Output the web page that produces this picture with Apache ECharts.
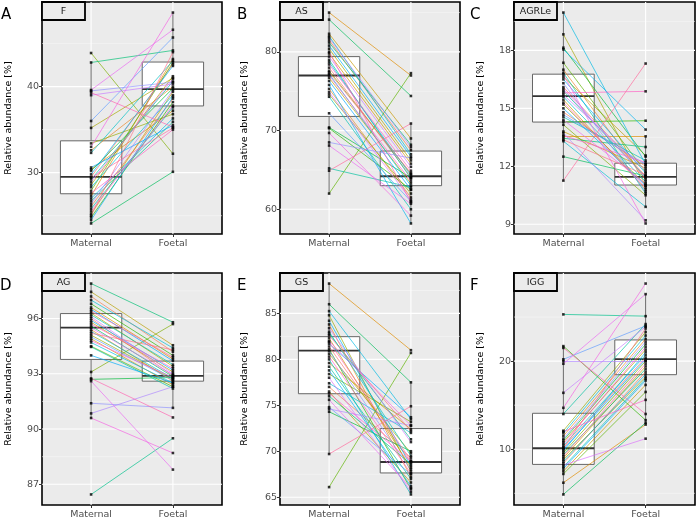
<!DOCTYPE html>
<html><head><meta charset="utf-8">
<script src="https://cdn.jsdelivr.net/npm/echarts@6/dist/echarts.min.js"></script>
<style>html,body{margin:0;padding:0;background:#fff}#c{width:697px;height:520px}</style>
</head><body><div id="c"></div>
<script>
// ---------- data ----------
const categories = ['Maternal', 'Foetal'];
const panelLetters = ['A', 'B', 'C', 'D', 'E', 'F'];
const panelNames = ['F', 'AS', 'AGRLe', 'AG', 'GS', 'IGG'];

const F_maternal = [29.5,26.1,32.6,27.3,30.4,25.2,28.6,35.2,33.4,43.9,27.9,24.8,30.2,24.1,42.8,26.7,29.2,25.8,32.3,28.3,27.0,29.8,24.5,30.6,36.0,39.5,26.4,39.0,28.9,39.6,33.0,25.5,27.6,39.3,29.4,25.0];
const F_foetal   = [42.6,38.6,40.0,43.2,37.2,39.4,41.2,41.0,36.8,32.2,42.8,38.2,39.8,30.1,44.2,35.9,40.6,37.6,43.0,39.0,36.3,42.4,38.8,35.5,45.7,40.5,39.6,40.3,40.9,46.6,48.6,37.8,35.0,35.3,35.2,44.0];

const AS_maternal = [78.0,81.5,75.3,85.0,79.8,82.3,76.7,80.4,74.6,77.6,62.0,70.3,70.4,84.1,81.2,79.0,65.2,74.3,82.0,77.2,78.7,75.8,80.8,76.3,72.2,68.5,81.8,79.4,74.9,68.1,69.7,77.0,78.4,80.0,64.9,77.4];
const AS_foetal   = [64.1,67.5,61.5,77.0,65.8,69.0,63.3,66.2,62.0,64.5,77.3,62.5,64.0,74.4,68.2,63.9,62.8,60.0,67.0,63.0,64.3,58.2,66.7,62.5,61.0,66.5,67.9,65.4,61.2,60.7,59.2,63.6,64.9,60.9,70.9,64.6];

const AGRLe_maternal = [16.1,14.8,17.0,13.55,15.45,13.8,16.63,18.83,15.2,14.15,17.36,14.3,18.14,12.5,13.45,15.9,16.84,14.55,15.6,13.3,19.96,18.05,16.5,15.0,14.67,16.3,13.72,15.7,16.0,14.4,16.75,13.6,15.8,15.3,11.26,13.37];
const AGRLe_foetal   = [11.5,12.0,11.3,13.55,10.8,11.9,12.56,11.0,11.05,10.5,11.7,14.36,12.5,11.5,13.0,11.45,10.6,12.3,11.2,9.9,12.1,13.9,11.64,11.0,12.1,10.7,9.2,11.8,11.4,11.1,9.04,12.2,15.88,10.9,17.32,11.55];

const AG_maternal = [96.0,97.2,95.4,96.6,94.9,95.8,97.45,96.3,95.1,93.1,94.5,96.8,92.7,95.6,97.9,86.45,94.46,96.2,95.3,97.0,94.7,95.9,94.0,96.5,95.0,91.4,90.85,96.1,95.5,92.6,90.6,94.8,95.7,92.75,96.4,95.2];
const AG_foetal   = [92.9,94.2,92.6,93.8,92.4,93.1,94.55,93.4,92.7,95.7,92.3,94.0,92.8,92.85,95.8,89.5,92.2,93.5,92.75,94.4,92.5,93.2,92.5,93.7,92.65,91.15,92.3,93.0,92.95,87.8,88.7,92.8,93.3,90.63,93.9,94.3];

const GS_maternal = [81.4,77.0,83.8,88.25,79.6,82.3,76.5,80.6,84.8,78.4,66.1,81.1,74.3,86.0,76.0,82.8,79.2,83.0,80.0,77.4,85.25,84.2,78.8,81.7,74.8,80.9,74.6,83.4,78.0,75.6,82.0,76.3,80.3,81.9,69.7,82.6];
const GS_foetal   = [68.8,69.3,67.2,81.0,72.4,68.2,66.6,69.8,67.8,73.2,80.7,65.9,70.0,77.5,68.6,71.3,67.0,69.5,65.3,72.0,73.5,68.4,66.2,73.7,67.5,68.0,72.8,71.0,65.6,66.0,72.8,68.9,67.6,69.0,74.9,72.2];

const IGG_maternal = [10.2,8.4,11.5,6.2,9.0,7.5,10.8,8.8,12.1,9.6,7.2,21.7,11.0,4.87,9.4,25.3,14.0,8.0,10.4,11.8,8.6,9.8,7.8,10.0,20.2,11.2,20.0,16.4,8.2,19.7,14.7,10.6,12.0,21.5,9.2,10.1];
const IGG_foetal   = [20.4,18.8,22.5,12.8,19.4,17.3,21.3,18.2,23.3,20.0,16.5,13.3,21.9,13.0,19.1,25.1,24.2,18.0,20.7,22.9,18.5,21.0,17.8,20.2,24.0,22.2,20.0,23.9,11.2,27.6,28.8,21.6,15.6,14.0,19.7,23.7];

// box quartiles: [q1, median, q3]
const F_boxM = [27.55, 29.5, 33.7],   F_boxF = [37.75, 39.7, 42.85];
const AS_boxM = [71.8, 77.0, 79.4],   AS_boxF = [63.0, 64.2, 67.4];
const AGRLe_boxM = [14.29, 15.63, 16.77], AGRLe_boxF = [11.03, 11.45, 12.16];
const AG_boxM = [93.78, 95.51, 96.27], AG_boxF = [92.6, 92.89, 93.69];
const GS_boxM = [76.26, 80.96, 82.47], GS_boxF = [67.64, 68.83, 72.47];
const IGG_boxM = [8.28, 10.11, 14.08], IGG_boxF = [18.46, 20.22, 22.4];

// tick labels
const F_ticks = [30, 40];
const AS_ticks = [60, 70, 80];
const AGRLe_ticks = [9, 12, 15, 18];
const AG_ticks = [87, 90, 93, 96];
const GS_ticks = [65, 70, 75, 80, 85];
const IGG_ticks = [10, 20];

const panels = [
  {m: F_maternal, f: F_foetal, bm: F_boxM, bf: F_boxF, ticks: F_ticks},
  {m: AS_maternal, f: AS_foetal, bm: AS_boxM, bf: AS_boxF, ticks: AS_ticks},
  {m: AGRLe_maternal, f: AGRLe_foetal, bm: AGRLe_boxM, bf: AGRLe_boxF, ticks: AGRLe_ticks},
  {m: AG_maternal, f: AG_foetal, bm: AG_boxM, bf: AG_boxF, ticks: AG_ticks},
  {m: GS_maternal, f: GS_foetal, bm: GS_boxM, bf: GS_boxF, ticks: GS_ticks},
  {m: IGG_maternal, f: IGG_foetal, bm: IGG_boxM, bf: IGG_boxF, ticks: IGG_ticks}
];

// ---------- styling / layout ----------
const layout = [
  {left: 42, top: 2, width: 180, height: 232, gap: 28, lx: 1},
  {left: 280, top: 2, width: 180, height: 232, gap: 30, lx: 237},
  {left: 514, top: 2, width: 181, height: 232, gap: 28, lx: 470},
  {left: 42, top: 273, width: 180, height: 232, gap: 28, lx: 0},
  {left: 280, top: 273, width: 180, height: 232, gap: 30, lx: 237},
  {left: 514, top: 273, width: 181, height: 232, gap: 28, lx: 470}
];
const FONT = 'DejaVu Sans';

function hcl(h, c, l) {
  const Xn = 95.047, Yn = 100, Zn = 108.883;
  const hr = h * Math.PI / 180;
  const u = c * Math.cos(hr), v = c * Math.sin(hr);
  const Y = l > 8 ? Yn * Math.pow((l + 16) / 116, 3) : Yn * l / 903.3;
  const d = Xn + 15 * Yn + 3 * Zn;
  const un = 4 * Xn / d, vn = 9 * Yn / d;
  const up = u / (13 * l) + un, vp = v / (13 * l) + vn;
  const X = 9 * Y * up / (4 * vp);
  const Z = 3 * Y / vp - X / 3 - 5 * Y;
  const x = X / 100, y = Y / 100, z = Z / 100;
  const r = 3.240479 * x - 1.537150 * y - 0.498535 * z;
  const g = -0.969256 * x + 1.875992 * y + 0.041556 * z;
  const b = 0.055648 * x - 0.204043 * y + 1.057311 * z;
  const gam = t => { t = t <= 0.0031308 ? 12.92 * t : 1.055 * Math.pow(t, 1 / 2.4) - 0.055; return Math.round(Math.max(0, Math.min(1, t)) * 255); };
  return 'rgb(' + gam(r) + ',' + gam(g) + ',' + gam(b) + ')';
}
const N = F_maternal.length;
const pal = [];
for (let i = 0; i < N; i++) pal.push(hcl(15 + i * 360 / N, 100, 65));

function whiskers(vals, q) {
  const iqr = q[2] - q[0];
  const lo = q[0] - 1.5 * iqr, hi = q[2] + 1.5 * iqr;
  const inside = vals.filter(v => v >= lo && v <= hi);
  return [Math.min.apply(null, inside), Math.max.apply(null, inside)];
}

const grid = [], xAxis = [], yAxis = [], series = [], graphic = [];

panels.forEach((p, i) => {
  const L = layout[i];
  const all = p.m.concat(p.f);
  const dmin = Math.min.apply(null, all), dmax = Math.max.apply(null, all);
  const pad = (dmax - dmin) * 0.05;
  const ymin = dmin - pad, ymax = dmax + pad;
  const step = p.ticks[1] - p.ticks[0];

  grid.push({left: L.left, top: L.top, width: L.width, height: L.height, show: true,
    backgroundColor: '#EBEBEB', borderColor: '#000', borderWidth: 1.6, containLabel: false});

  xAxis.push({type: 'value', gridIndex: i, min: 0.4, max: 2.6,
    axisLine: {show: false}, splitLine: {show: false},
    axisTick: {show: true, customValues: [1, 2], length: 3, lineStyle: {color: '#333', width: 1}},
    axisLabel: {customValues: [1, 2], formatter: v => categories[Math.round(v) - 1] || '',
      color: '#4D4D4D', fontSize: 9.5, fontFamily: FONT, margin: 5}});

  yAxis.push({type: 'value', gridIndex: i, min: ymin, max: ymax,
    axisLine: {show: false}, splitLine: {show: false},
    axisTick: {show: true, customValues: p.ticks, length: 3, lineStyle: {color: '#333', width: 1}},
    axisLabel: {customValues: p.ticks, formatter: v => String(v), color: '#4D4D4D', fontSize: 9.5, fontFamily: FONT, margin: 3},
    name: 'Relative abundance [%]', nameLocation: 'middle', nameGap: L.gap,
    nameTextStyle: {color: '#000', fontSize: 9.5, fontFamily: FONT}});

  // grid lines
  const gl = [];
  p.ticks.forEach(t => gl.push([0, t, 1]));
  const mins = [p.ticks[0] - step / 2].concat(p.ticks.map(t => t + step / 2));
  mins.forEach(t => { if (t > ymin && t < ymax) gl.push([0, t, 0]); });
  gl.push([1, 1, 1]); gl.push([1, 2, 1]);
  series.push({type: 'custom', xAxisIndex: i, yAxisIndex: i, silent: true, z: 1, data: gl,
    renderItem: (params, api) => {
      const cs = params.coordSys;
      const o = api.value(0), v = api.value(1), mj = api.value(2);
      let shape;
      if (o === 0) { const y = api.coord([1, v])[1]; shape = {x1: cs.x, y1: y, x2: cs.x + cs.width, y2: y}; }
      else { const x = api.coord([v, (ymin + ymax) / 2])[0]; shape = {x1: x, y1: cs.y, x2: x, y2: cs.y + cs.height}; }
      return {type: 'line', shape: shape, style: {stroke: mj ? '#FFFFFF' : '#F8F8F8', lineWidth: mj ? 1.1 : 0.55}};
    }});

  // boxes
  const wm = whiskers(p.m, p.bm), wf = whiskers(p.f, p.bf);
  const boxData = [[1, wm[0], p.bm[0], p.bm[1], p.bm[2], wm[1]], [2, wf[0], p.bf[0], p.bf[1], p.bf[2], wf[1]]];
  series.push({type: 'custom', xAxisIndex: i, yAxisIndex: i, silent: true, z: 2, data: boxData,
    renderItem: (params, api) => {
      const x = api.value(0);
      const c = k => api.coord([x, api.value(k)]);
      const lo = c(1), q1 = c(2), md = c(3), q3 = c(4), hi = c(5);
      const hw = api.size([0.375, 0])[0];
      const ws = {stroke: '#666', lineWidth: 1};
      return {type: 'group', children: [
        {type: 'line', shape: {x1: lo[0], y1: lo[1], x2: q1[0], y2: q1[1]}, style: ws},
        {type: 'line', shape: {x1: q3[0], y1: q3[1], x2: hi[0], y2: hi[1]}, style: ws},
        {type: 'rect', shape: {x: q1[0] - hw, y: q3[1], width: 2 * hw, height: q1[1] - q3[1]}, style: {fill: '#fff', stroke: '#666', lineWidth: 1}},
        {type: 'line', shape: {x1: md[0] - hw, y1: md[1], x2: md[0] + hw, y2: md[1]}, style: {stroke: '#333', lineWidth: 1.8}}
      ]};
    }});

  // paired lines
  series.push({type: 'lines', coordinateSystem: 'cartesian2d', xAxisIndex: i, yAxisIndex: i, silent: true, z: 3,
    lineStyle: {width: 0.75, opacity: 0.9},
    data: p.m.map((v, k) => ({coords: [[1, v], [2, p.f[k]]], lineStyle: {color: pal[k]}}))});

  // points
  series.push({type: 'scatter', xAxisIndex: i, yAxisIndex: i, silent: true, z: 4, symbol: 'rect', symbolSize: 2.6,
    itemStyle: {color: '#000'},
    data: p.m.map(v => [1, v]).concat(p.f.map(v => [2, v]))});

  // strip label
  graphic.push({type: 'rect', z: 100, shape: {x: L.left, y: L.top, width: 43, height: 18},
    style: {fill: '#EBEBEB', stroke: '#000', lineWidth: 1.8}});
  graphic.push({type: 'text', z: 101, x: L.left + 21.5, y: L.top + 9.5,
    style: {text: panelNames[i], font: '9.5px "' + FONT + '"', fill: '#1a1a1a', align: 'center', verticalAlign: 'middle'}});
  // panel letter
  graphic.push({type: 'text', z: 101, x: L.lx, y: L.top + 6,
    style: {text: panelLetters[i], font: '15px "' + FONT + '"', fill: '#000', align: 'left', verticalAlign: 'top'}});
});

const chart = echarts.init(document.getElementById('c'));
chart.setOption({animation: false, grid, xAxis, yAxis, series, graphic});
</script></body></html>
